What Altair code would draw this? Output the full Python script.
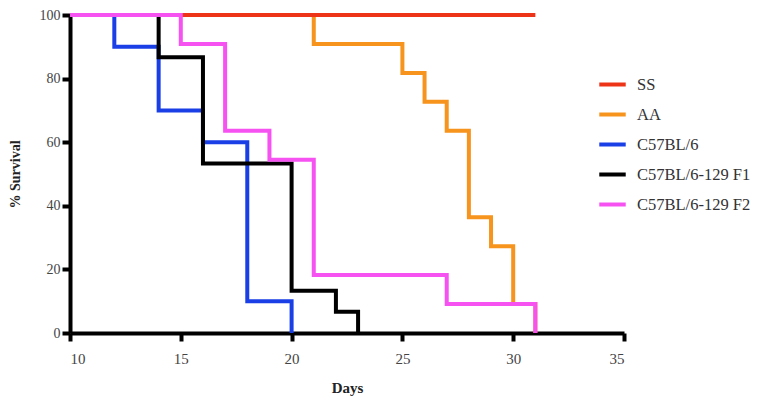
import altair as alt
import pandas as pd

series_names = ["SS", "AA", "C57BL/6", "C57BL/6-129 F1", "C57BL/6-129 F2"]
colors = ["#ee3418", "#f7941d", "#1a3fe6", "#000000", "#f652f2"]

ss_days = [10, 31]
ss_surv = [100, 100]

aa_days = [10, 21, 25, 26, 27, 28, 29, 30, 31]
aa_surv = [100, 90.9, 81.8, 72.7, 63.6, 36.4, 27.3, 9.1, 0]

b6_days = [10, 12, 14, 16, 18, 20]
b6_surv = [100, 90, 70, 60, 10, 0]

f1_days = [10, 14, 16, 20, 22, 23]
f1_surv = [100, 86.7, 53.3, 13.3, 6.7, 0]

f2_days = [10, 15, 17, 19, 21, 27, 31]
f2_surv = [100, 90.9, 63.6, 54.5, 18.2, 9.1, 0]

series_data = {
    "SS": (ss_days, ss_surv),
    "AA": (aa_days, aa_surv),
    "C57BL/6": (b6_days, b6_surv),
    "C57BL/6-129 F1": (f1_days, f1_surv),
    "C57BL/6-129 F2": (f2_days, f2_surv),
}

rows = []
for name, (d, s) in series_data.items():
    for i, (dd, ss) in enumerate(zip(d, s)):
        rows.append({"series": name, "day": dd, "survival": ss, "idx": i})
df = pd.DataFrame(rows)

FONT = "Liberation Serif"

color_enc = alt.Color(
    "series:N",
    scale=alt.Scale(domain=series_names, range=colors),
    legend=alt.Legend(
        title=None,
        orient="none",
        legendX=527,
        legendY=54,
        symbolType="stroke",
        symbolStrokeWidth=4,
        symbolSize=700,
        rowPadding=6,
        labelFont=FONT,
        labelFontSize=16.5,
        labelColor="#333333",
        labelOffset=9,
        padding=0,
    ),
)

x_enc = alt.X(
    "day:Q",
    scale=alt.Scale(domain=[10, 35], nice=False),
    axis=alt.Axis(
        title="Days",
        values=[10, 15, 20, 25, 30, 35],
        grid=False,
        domainColor="black",
        domainWidth=4,
        tickColor="black",
        tickWidth=4,
        tickSize=8,
        labelFont=FONT,
        labelFontSize=15,
        labelColor="#444444",
        labelPadding=10,
        titleFont=FONT,
        titleFontSize=15,
        titleFontWeight="bold",
        titleColor="#222222",
        titleY=47,
    ),
)

y_enc = alt.Y(
    "survival:Q",
    scale=alt.Scale(domain=[0, 100], nice=False),
    axis=alt.Axis(
        title="% Survival",
        values=[0, 20, 40, 60, 80, 100],
        grid=False,
        domainColor="black",
        domainWidth=4,
        tickColor="black",
        tickWidth=4,
        tickSize=8,
        labelFont=FONT,
        labelFontSize=14,
        labelColor="#444444",
        labelPadding=2,
        titleFont=FONT,
        titleFontSize=14,
        titleFontWeight="bold",
        titleColor="#222222",
        titleX=-48,
    ),
)

draw_order = ["AA", "SS", "C57BL/6", "C57BL/6-129 F1", "C57BL/6-129 F2"]
layers = []
for name in draw_order:
    layers.append(
        alt.Chart(df)
        .transform_filter(alt.datum.series == name)
        .mark_line(interpolate="step-after", strokeWidth=4)
        .encode(x=x_enc, y=y_enc, color=color_enc, order="idx:Q")
    )

chart = (
    alt.layer(*layers)
    .properties(
        width=554,
        height=318,
        autosize=alt.AutoSizeParams(type="none"),
        padding={"left": 62, "top": 7, "right": 126, "bottom": 68},
    )
    .configure_view(stroke=None)
)

chart.save("out.html", embed_options={"renderer": "svg", "actions": False})
